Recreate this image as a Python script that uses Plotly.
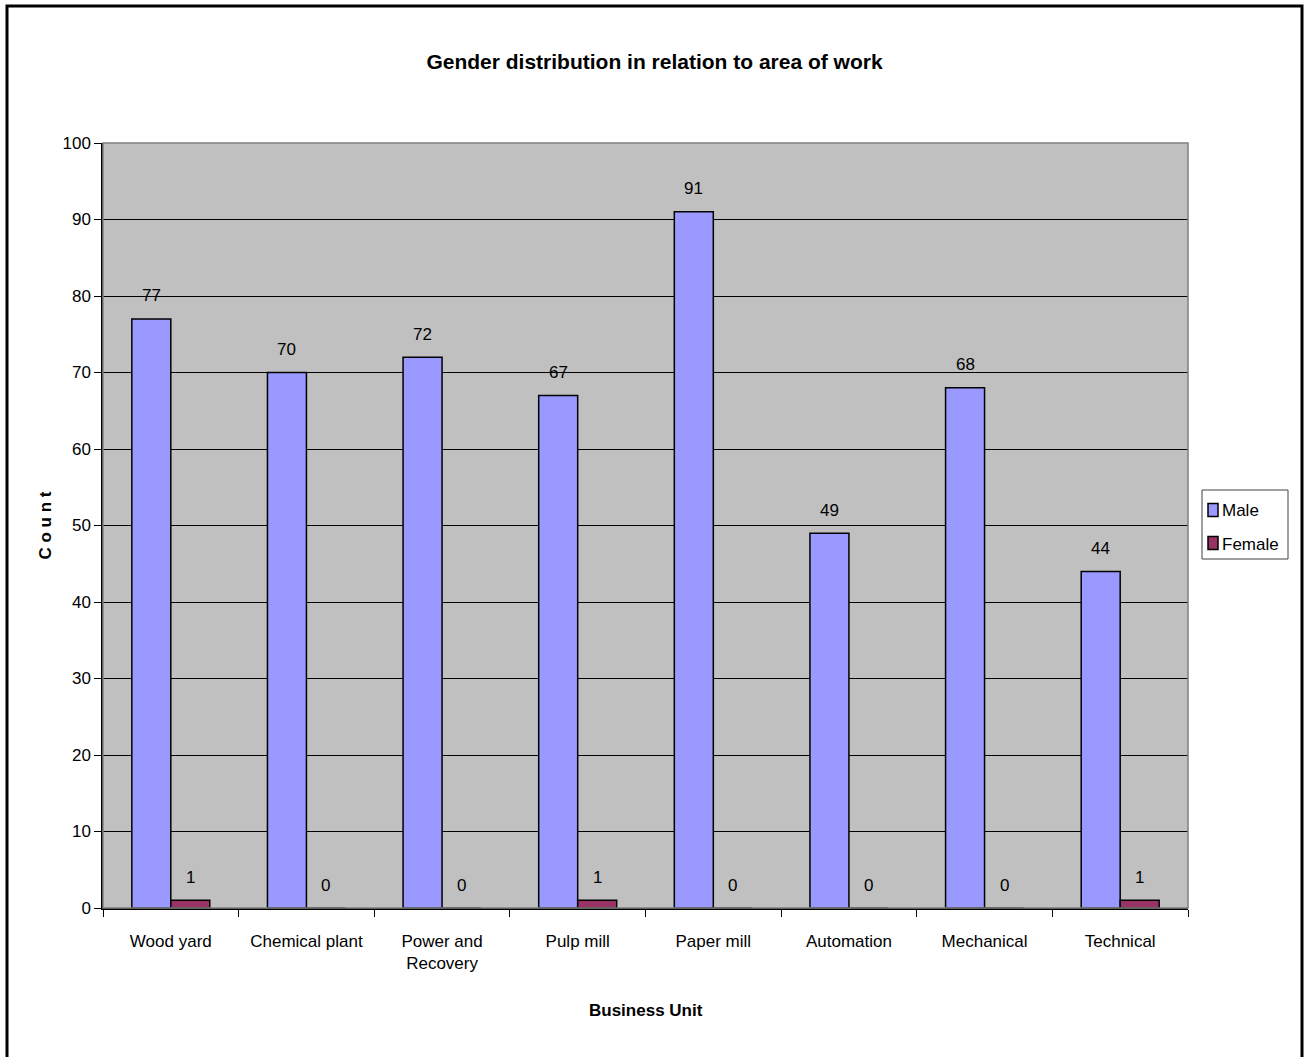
import plotly.graph_objects as go

categories = ["Wood yard", "Chemical plant", "Power and<br>Recovery", "Pulp mill",
              "Paper mill", "Automation", "Mechanical", "Technical"]
male = [77, 70, 72, 67, 91, 49, 68, 44]
female = [1, 0, 0, 1, 0, 0, 0, 1]
y_ticks = [0, 10, 20, 30, 40, 50, 60, 70, 80, 90, 100]
series_names = ["Male", "Female"]
series_colors = ["#9999FF", "#993366"]

FONT = "Liberation Sans, Arial, sans-serif"
BARGAP = 0.425

W, H = 1309, 1057
ML, MR, MT, MB = 103, 121, 143, 149
PW, PH = W - ML - MR, H - MT - MB


def px(x):
    return (x - ML) / PW


def py(y):
    return (H - MB - y) / PH


fig = go.Figure()
for name, vals, col in zip(series_names, (male, female), series_colors):
    fig.add_bar(name=name, x=categories, y=vals, marker_color=col,
                marker_line=dict(color="black", width=1.5))

# value labels above each bar, positioned by category index and group offset
half = (1 - BARGAP) / 4
for series, sign in ((male, -1), (female, 1)):
    for i, v in enumerate(series):
        fig.add_annotation(x=i + sign * half, y=v, text=str(v), showarrow=False,
                           xref="x", yref="y", yanchor="middle", yshift=23,
                           font=dict(family=FONT, size=17, color="black"))

# plot-area frame (gray top/right) and outer chart border
fig.add_shape(type="rect", xref="paper", yref="paper", x0=0, x1=1, y0=0, y1=1,
              line=dict(color="#808080", width=1.5), layer="above")
fig.add_shape(type="rect", xref="paper", yref="paper", x0=px(7), x1=px(1302),
              y0=py(1075), y1=py(6), line=dict(color="black", width=3))

# compact legend box on the right
fig.add_shape(type="rect", xref="paper", yref="paper", x0=px(1202), x1=px(1288),
              y0=py(559), y1=py(490), line=dict(color="#404040", width=1),
              fillcolor="white")
for k, (name, col) in enumerate(zip(series_names, series_colors)):
    cy = 510 + 33 * k
    fig.add_shape(type="rect", xref="paper", yref="paper", x0=px(1208), x1=px(1218),
                  y0=py(cy + 6.5), y1=py(cy - 6.5), fillcolor=col,
                  line=dict(color="black", width=1.5))
    fig.add_annotation(text=name, xref="paper", yref="paper", x=px(1220), y=py(cy + 1),
                       xanchor="left", yanchor="middle", showarrow=False,
                       font=dict(family=FONT, size=17, color="black"))

fig.add_annotation(text="Business Unit", xref="paper", yref="paper", x=0.5, y=py(1010),
                   showarrow=False, yanchor="middle",
                   font=dict(family=FONT, size=17, color="black", weight="bold"))
fig.add_annotation(text="C o u n t", xref="paper", yref="paper",
                   x=px(45), y=0.5, textangle=-90, showarrow=False, xanchor="center",
                   font=dict(family=FONT, size=17, color="black", weight="bold"))

fig.update_layout(
    width=W, height=H,
    margin=dict(l=ML, r=MR, t=MT, b=MB, autoexpand=False),
    paper_bgcolor="white", plot_bgcolor="#C0C0C0",
    barmode="group", bargap=BARGAP, bargroupgap=0,
    title=dict(text="<b>Gender distribution in relation to area of work</b>",
               x=0.5, xref="container", y=1 - 62 / H, yref="container",
               xanchor="center", yanchor="middle",
               font=dict(family=FONT, size=21, color="black")),
    font=dict(family=FONT, size=17, color="black"),
    showlegend=False,
)
fig.update_xaxes(showline=True, linecolor="black", linewidth=1.5,
                 ticks="outside", tickson="boundaries", ticklen=7, tickcolor="black",
                 showgrid=False, tickangle=0, ticklabelstandoff=17,
                 tickfont=dict(family=FONT, size=17))
fig.update_yaxes(range=[0, 100], tickvals=y_ticks, showline=True, linecolor="black",
                 linewidth=1.5, ticks="outside", ticklen=7, tickcolor="black",
                 showgrid=True, gridcolor="black", gridwidth=1, zeroline=False,
                 tickfont=dict(family=FONT, size=17))

fig.write_html("out.html")
